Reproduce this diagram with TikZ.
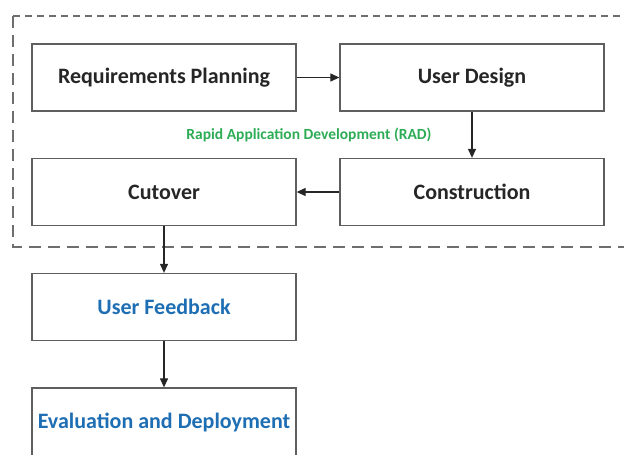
\documentclass[tikz,border=0pt]{standalone}
\usepackage{fontspec}
\setmainfont{Carlito}
\usetikzlibrary{arrows.meta}
\definecolor{radgreen}{RGB}{45,172,85}
\definecolor{fbblue}{RGB}{30,110,180}
\definecolor{boxgray}{RGB}{95,95,95}
\definecolor{dashgray}{RGB}{110,110,110}
\tikzset{
  stepbox/.style={draw=boxgray, line width=1.3pt, fill=white, minimum width=264pt, minimum height=67pt, inner sep=0pt, font=\fontsize{22}{26}\selectfont\bfseries, text=black!85},
  bluebox/.style={stepbox, text=fbblue},
  flow/.style={draw=black!85, line width=1.2pt, -{Triangle[length=9pt,width=8pt]}},
  frame/.style={draw=dashgray, line width=1.3pt}
}
\begin{document}
\begin{tikzpicture}[x=1pt,y=-1pt]
\useasboundingbox (0,0) rectangle (624,455);
\clip (0,0) rectangle (624,455);
% dashed RAD frame
\coordinate (ftl) at (13,16);
\coordinate (ftr) at (640,16);
\coordinate (fbl) at (13,247);
\coordinate (fbr) at (640,247);
\draw[frame, dash pattern=on 7pt off 5pt] (ftl) -- (ftr);
\draw[frame, dash pattern=on 12pt off 7pt] (ftl) -- (fbl) -- (fbr);
% boxes
\node[stepbox] (rp) at (164,77.5) {Requirements Planning};
\node[stepbox] (ud) at (472,77.5) {User Design};
\node[stepbox] (cut) at (164,192) {Cutover};
\node[stepbox] (con) at (472,192) {Construction};
\node[bluebox] (uf) at (164,307) {User Feedback};
\node[bluebox, minimum height=68pt] (ev) at (164,422) {Evaluation and Deployment};
\node[text=radgreen, font=\fontsize{15.5}{18}\selectfont\bfseries, inner sep=0pt] (rad) at (309,135) {Rapid Application Development (RAD)};
% connectors
\draw[flow] (rp) -- (ud);
\draw[flow] (ud) -- (con);
\draw[flow] (con) -- (cut);
\draw[flow] (cut) -- (uf);
\draw[flow] (uf) -- (ev);
\end{tikzpicture}
\end{document}
